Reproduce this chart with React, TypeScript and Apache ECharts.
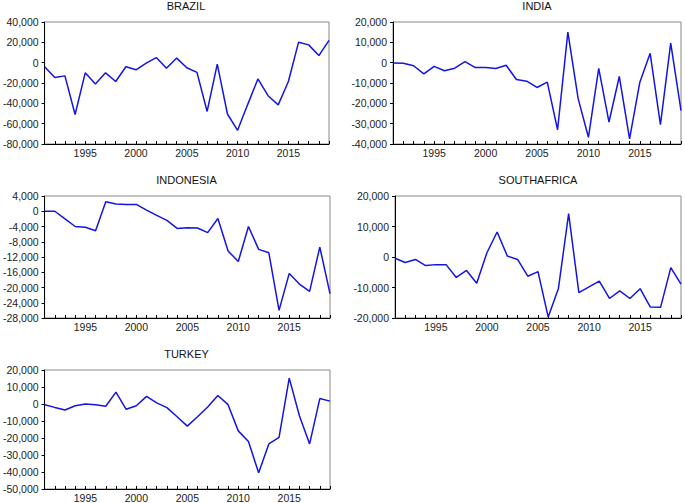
import React, { useEffect, useRef } from "react";
import * as echarts from "echarts";

const years: string[] = [];
for (let y = 1991; y <= 2019; y++) years.push(String(y));

const countries = ["BRAZIL", "INDIA", "INDONESIA", "SOUTHAFRICA", "TURKEY"];

const brazil = [-4000, -14500, -13000, -51000, -10000, -21000, -10000, -18500, -4000, -7000, -500, 5000, -5500, 4500, -5000, -9500, -48000, -1500, -50500, -66500, -41000, -16000, -32500, -41500, -18500, 20000, 17500, 7000, 22000];
const india = [-200, -300, -1500, -5500, -1800, -4000, -2700, 500, -2400, -2400, -2900, -1300, -8300, -9100, -12200, -9600, -33000, 15000, -17700, -36700, -2800, -29200, -6800, -37500, -9600, 4600, -30500, 9600, -23600];
const indonesia = [0, 0, -2000, -4000, -4200, -5100, 2500, 1900, 1800, 1800, 300, -1100, -2400, -4500, -4300, -4400, -5600, -1900, -10400, -13200, -4000, -10000, -10900, -26000, -16300, -19100, -21000, -9400, -21600];
const southAfrica = [-400, -1800, -800, -2800, -2500, -2500, -6700, -4400, -8600, 1400, 8200, 300, -800, -6300, -4800, -19700, -10300, 14200, -11700, -9800, -7900, -13600, -11100, -13600, -10400, -16400, -16500, -3500, -8900];
const turkey = [-400, -2000, -3500, -1000, 0, -400, -1300, 7000, -3100, -1000, 4500, 700, -2100, -7500, -13000, -7500, -1800, 5000, -400, -15800, -22100, -40500, -23500, -19700, 15200, -6900, -23500, 3200, 1700];

const seriesData = [brazil, india, indonesia, southAfrica, turkey];
const yMin = [-80000, -40000, -28000, -20000, -50000];
const yMax = [40000, 20000, 4000, 20000, 20000];
const yInterval = [20000, 10000, 4000, 10000, 10000];

const grids = [
  { left: 43, top: 22, width: 286, height: 122 },
  { left: 393, top: 22, width: 288, height: 122 },
  { left: 43, top: 196, width: 287, height: 122 },
  { left: 395, top: 196, width: 286, height: 122 },
  { left: 43, top: 370, width: 287, height: 123 },
];

const FONT = "'Liberation Sans', Arial, sans-serif";

export default function App() {
  const ref = useRef<HTMLDivElement>(null);
  useEffect(() => {
    if (!ref.current) return;
    const chart = echarts.init(ref.current, undefined, { renderer: "svg" });
    const option: any = {
      animation: false,
      backgroundColor: "#ffffff",
      title: countries.map((c, i) => ({
        text: c,
        left: grids[i].left + grids[i].width / 2,
        top: grids[i].top - 22,
        padding: 0,
        textAlign: "center",
        textStyle: { fontFamily: FONT, fontSize: 11, fontWeight: "normal", color: "#111" },
      })),
      grid: grids.map((g) => ({
        left: g.left,
        top: g.top,
        width: g.width,
        height: g.height,
        show: true,
        borderColor: "#888",
        borderWidth: 1,
        containLabel: false,
      })),
      xAxis: countries.map((_, i) => ({
        type: "category",
        gridIndex: i,
        data: years,
        boundaryGap: false,
        position: "bottom",
        axisLine: { show: true, onZero: false, lineStyle: { color: "#000", width: 1 } },
        axisTick: { show: true, inside: true, length: 3, interval: 0, lineStyle: { color: "#000" } },
        axisLabel: {
          interval: (_idx: number, v: string) => Number(v) % 5 === 0,
          fontFamily: FONT,
          fontSize: 10.5,
          color: "#222",
          margin: 3,
        },
        splitLine: { show: false },
      })),
      yAxis: countries.map((_, i) => ({
        type: "value",
        gridIndex: i,
        min: yMin[i],
        max: yMax[i],
        interval: yInterval[i],
        position: "left",
        axisLine: { show: true, onZero: false, lineStyle: { color: "#000", width: 1 } },
        axisTick: { show: true, inside: false, length: 3, lineStyle: { color: "#000" } },
        axisLabel: {
          fontFamily: FONT,
          fontSize: 10.5,
          color: "#222",
          margin: 6,
          formatter: (v: number) => v.toLocaleString("en-US"),
        },
        splitLine: { show: false },
      })),
      series: seriesData.map((d, i) => ({
        type: "line",
        name: countries[i],
        xAxisIndex: i,
        yAxisIndex: i,
        data: d,
        showSymbol: false,
        symbol: "none",
        lineStyle: { color: "#1414e6", width: 1.5 },
      })),
    };
    chart.setOption(option);
    return () => chart.dispose();
  }, []);
  return (
    <div
      ref={ref}
      style={{ position: "fixed", left: 0, top: 0, width: 685, height: 503, background: "#fff" }}
    />
  );
}
